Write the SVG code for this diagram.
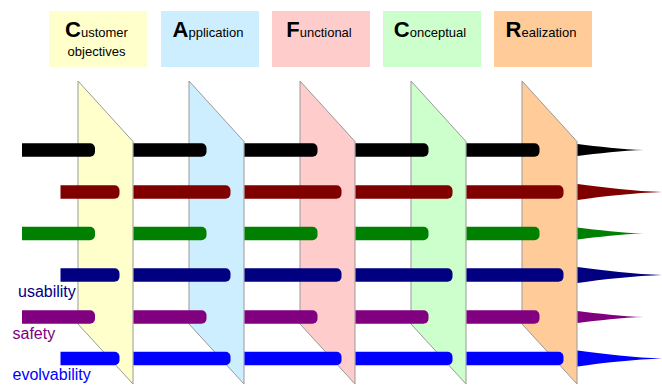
<svg xmlns="http://www.w3.org/2000/svg" xmlns:xlink="http://www.w3.org/1999/xlink" width="662" height="385" viewBox="0 0 662 385">
<style>
text{font-family:"Liberation Sans",Arial,sans-serif;}
.hd{font-size:13px;fill:#000;text-anchor:middle;}
.big{font-size:22px;font-weight:bold;}
.lbl{font-size:16px;}
.panel{stroke:#999;stroke-width:1;}
</style>
<defs>
<path id="s73" d="M0,-6.75 H68 A5,5 0 0 1 73,-1.75 V1.75 A5,5 0 0 1 68,6.75 H0 Z"/>
<path id="s97" d="M0,-6.75 H92 A5,5 0 0 1 97,-1.75 V1.75 A5,5 0 0 1 92,6.75 H0 Z"/>
<path id="s59" d="M0,-6.75 H54 A5,5 0 0 1 59,-1.75 V1.75 A5,5 0 0 1 54,6.75 H0 Z"/>
<path id="spS" d="M0,-6 C20,-3.5 45,-0.6 66,0 C45,0.6 20,3.5 0,6 Z"/>
<path id="spL" d="M0,-8 C25,-4.5 60,-0.6 86,0 C60,0.6 25,4.5 0,8 Z"/>
</defs>
<rect width="662" height="385" fill="#fff"/>
<g id="box-customer"><rect x="49" y="11" width="98" height="56" fill="#ffffcc"/>
<text class="hd" x="96.5" y="37"><tspan class="big">C</tspan>ustomer</text>
<text class="hd" x="96.5" y="56">objectives</text></g>
<g id="box-application"><rect x="161" y="11" width="98" height="56" fill="#cceeff"/>
<text class="hd" x="208" y="37"><tspan class="big">A</tspan>pplication</text></g>
<g id="box-functional"><rect x="272" y="11" width="98" height="56" fill="#ffcccc"/>
<text class="hd" x="319" y="37"><tspan class="big">F</tspan>unctional</text></g>
<g id="box-conceptual"><rect x="383" y="11" width="98" height="56" fill="#ccffcc"/>
<text class="hd" x="430" y="37"><tspan class="big">C</tspan>onceptual</text></g>
<g id="box-realization"><rect x="494" y="11" width="98" height="56" fill="#ffcc99"/>
<text class="hd" x="541" y="37"><tspan class="big">R</tspan>ealization</text></g>
<g id="panel-customer"><polygon class="panel" fill="#ffffcc" points="78,81 133,141.5 133,384 78,324"/></g>
<g id="panel-application"><polygon class="panel" fill="#cceeff" points="189,81 244,141.5 244,384 189,324"/></g>
<g id="panel-functional"><polygon class="panel" fill="#ffcccc" points="300,81 355,141.5 355,384 300,324"/></g>
<g id="panel-conceptual"><polygon class="panel" fill="#ccffcc" points="411,81 466,141.5 466,384 411,324"/></g>
<g id="panel-realization"><polygon class="panel" fill="#ffcc99" points="522,81 577,141.5 577,384 522,324"/></g>
<g id="connectors">
<g fill="#000"><use xlink:href="#s73" x="22" y="150"/><use xlink:href="#s73" x="133.5" y="150"/><use xlink:href="#s73" x="244.5" y="150"/><use xlink:href="#s73" x="355.5" y="150"/><use xlink:href="#s73" x="466.5" y="150"/><use xlink:href="#spS" x="577.5" y="150"/></g>
<g fill="#800000"><use xlink:href="#s59" x="60.5" y="192"/><use xlink:href="#s97" x="133.5" y="192"/><use xlink:href="#s97" x="244.5" y="192"/><use xlink:href="#s97" x="355.5" y="192"/><use xlink:href="#s97" x="466.5" y="192"/><use xlink:href="#spL" x="577.5" y="192"/></g>
<g fill="#008000"><use xlink:href="#s73" x="22" y="233.5"/><use xlink:href="#s73" x="133.5" y="233.5"/><use xlink:href="#s73" x="244.5" y="233.5"/><use xlink:href="#s73" x="355.5" y="233.5"/><use xlink:href="#s73" x="466.5" y="233.5"/><use xlink:href="#spS" x="577.5" y="233.5"/></g>
<g fill="#000080"><use xlink:href="#s59" x="60.5" y="275"/><use xlink:href="#s97" x="133.5" y="275"/><use xlink:href="#s97" x="244.5" y="275"/><use xlink:href="#s97" x="355.5" y="275"/><use xlink:href="#s97" x="466.5" y="275"/><use xlink:href="#spL" x="577.5" y="275"/></g>
<g fill="#800080"><use xlink:href="#s73" x="22" y="317"/><use xlink:href="#s73" x="133.5" y="317"/><use xlink:href="#s73" x="244.5" y="317"/><use xlink:href="#s73" x="355.5" y="317"/><use xlink:href="#s73" x="466.5" y="317"/><use xlink:href="#spS" x="577.5" y="317"/></g>
<g fill="#0000ff"><use xlink:href="#s59" x="60.5" y="358.5"/><use xlink:href="#s97" x="133.5" y="358.5"/><use xlink:href="#s97" x="244.5" y="358.5"/><use xlink:href="#s97" x="355.5" y="358.5"/><use xlink:href="#s97" x="466.5" y="358.5"/><use xlink:href="#spL" x="577.5" y="358.5"/></g>
</g>
<text class="lbl" x="18" y="297" fill="#000080">usability</text>
<text class="lbl" x="12.5" y="339" fill="#800080">safety</text>
<text class="lbl" x="12.5" y="380" fill="#0000ff">evolvability</text>
</svg>
